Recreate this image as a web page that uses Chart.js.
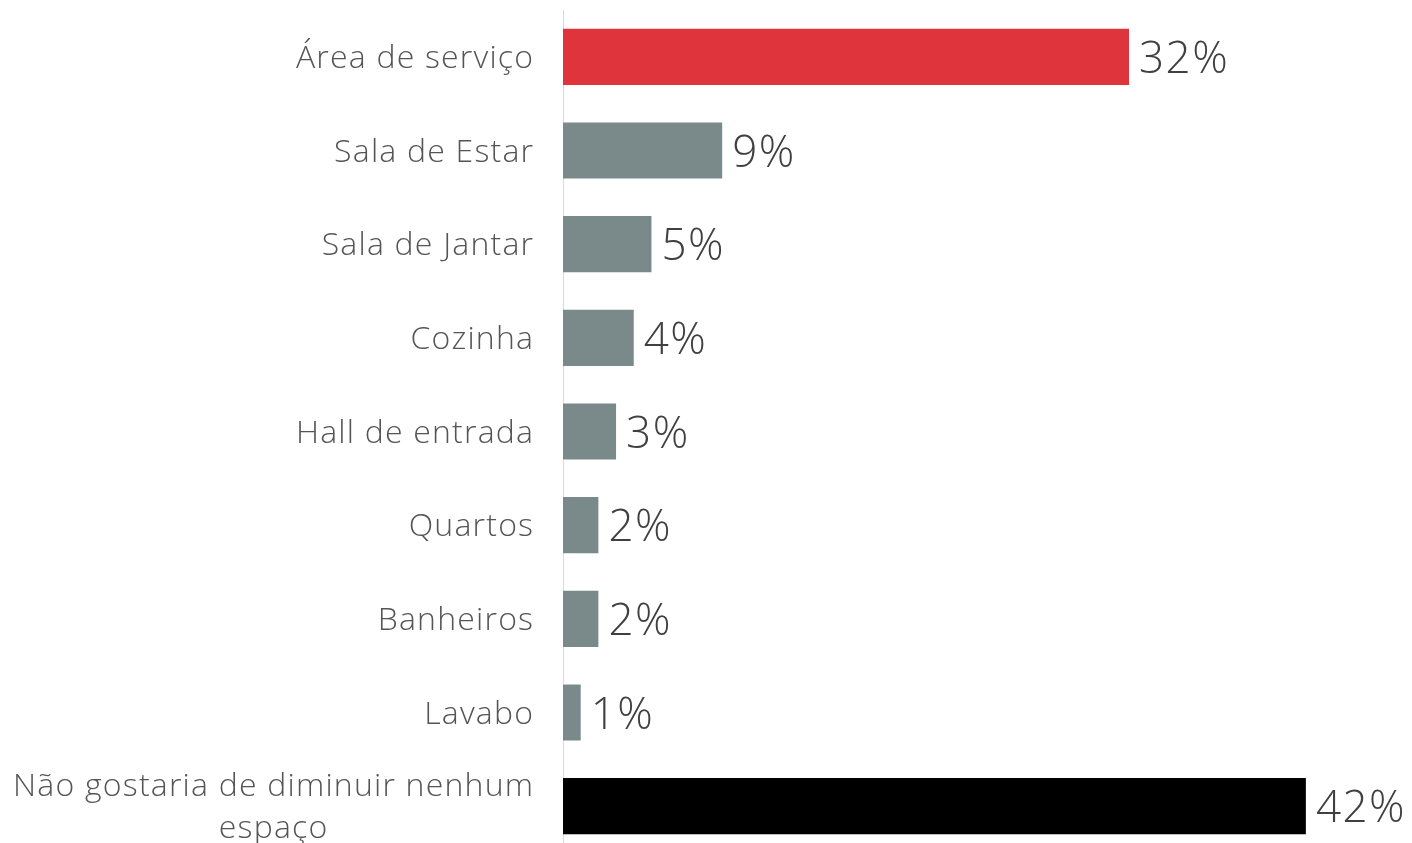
<!DOCTYPE html>
<html>
<head>
<meta charset="utf-8">
<script src="https://cdn.jsdelivr.net/npm/chart.js@4.4.1/dist/chart.umd.min.js"></script>
<style>
  html, body { margin: 0; padding: 0; background: #ffffff; overflow: hidden; }
  #wrap { position: relative; width: 1412px; height: 853px; }
</style>
</head>
<body>
<div id="wrap"><canvas id="c"></canvas></div>
<script>
// Espaços que o entrevistado gostaria de diminuir (% de respostas)
const categories = [
  'Área de serviço',
  'Sala de Estar',
  'Sala de Jantar',
  'Cozinha',
  'Hall de entrada',
  'Quartos',
  'Banheiros',
  'Lavabo',
  ['Não gostaria de diminuir nenhum', 'espaço']
];
const values = [32, 9, 5, 4, 3, 2, 2, 1, 42];
const barColors = ['#E0343C', '#7A8A8B', '#7A8A8B', '#7A8A8B', '#7A8A8B', '#7A8A8B', '#7A8A8B', '#7A8A8B', '#000000'];

const FONT = '"Century Gothic", "Open Sans", sans-serif';

// Category names drawn at the left, right-aligned against the axis;
// wrapped names are centred on their own block.
const categoryLabels = {
  id: 'categoryLabels',
  afterDraw(chart) {
    const ctx = chart.ctx;
    const y = chart.scales.y;
    const spacing = 1.2;
    const right = chart.chartArea.left - 30 + spacing;
    ctx.save();
    ctx.font = '300 32px ' + FONT;
    ctx.letterSpacing = spacing + 'px';
    ctx.fillStyle = '#555555';
    ctx.textBaseline = 'alphabetic';
    chart.data.labels.forEach((lab, i) => {
      const lines = Array.isArray(lab) ? lab : [lab];
      const cy = y.getPixelForValue(i);
      const lh = 42;
      const widths = lines.map(l => ctx.measureText(l).width);
      const w = Math.max(...widths);
      const cx = right - w / 2;
      const base = cy + 11 - (lines.length - 1) * lh / 2;
      ctx.textAlign = lines.length > 1 ? 'center' : 'right';
      lines.forEach((l, k) => {
        ctx.fillText(l, lines.length > 1 ? cx : right, base + k * lh);
      });
    });
    ctx.restore();
  }
};

// Percentages written just past the end of each bar
const valueLabels = {
  id: 'valueLabels',
  afterDatasetsDraw(chart) {
    const ctx = chart.ctx;
    const meta = chart.getDatasetMeta(0);
    ctx.save();
    ctx.font = '300 44px ' + FONT;
    ctx.letterSpacing = '1.5px';
    ctx.fillStyle = '#404040';
    ctx.textAlign = 'left';
    ctx.textBaseline = 'alphabetic';
    meta.data.forEach((bar, i) => {
      ctx.fillText(values[i] + '%', bar.x + 10, bar.y + 16);
    });
    ctx.restore();
  }
};

new Chart(document.getElementById('c'), {
  type: 'bar',
  data: {
    labels: categories,
    datasets: [{
      data: values,
      backgroundColor: barColors,
      borderWidth: 0,
      categoryPercentage: 0.6,
      barPercentage: 1.0
    }]
  },
  options: {
    indexAxis: 'y',
    responsive: true,
    maintainAspectRatio: false,
    animation: false,
    layout: { padding: { left: 563, top: 10, right: 0, bottom: 0 } },
    plugins: { legend: { display: false }, tooltip: { enabled: false } },
    scales: {
      x: {
        min: 0,
        max: 48,
        display: false
      },
      y: {
        ticks: { display: false },
        grid: { display: false, drawTicks: false },
        border: { display: true, color: '#D9D9D9', width: 1 }
      }
    }
  },
  plugins: [categoryLabels, valueLabels]
});
</script>
</body>
</html>
